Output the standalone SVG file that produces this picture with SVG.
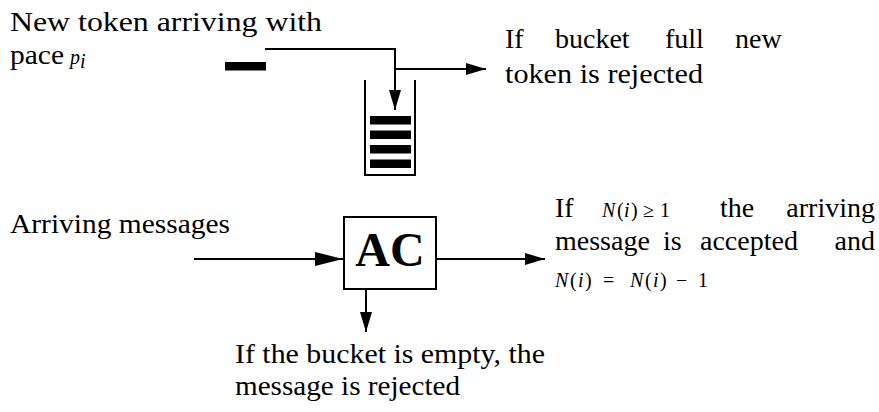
<svg xmlns="http://www.w3.org/2000/svg" width="879" height="412" viewBox="0 0 879 412">
<style>
.t{font-family:"Liberation Serif","DejaVu Serif","Times New Roman",serif;font-size:28px;fill:#000}
.m{font-family:"Liberation Serif","DejaVu Serif","Times New Roman",serif;font-style:italic;font-size:20px;fill:#000}
.mu{font-family:"Liberation Serif","DejaVu Serif","Times New Roman",serif;font-size:20px;fill:#000}
.ac{font-family:"Liberation Serif","DejaVu Serif","Times New Roman",serif;font-weight:bold;font-size:48px;fill:#000}
.ln{stroke:#000;stroke-width:2;fill:none}
</style>
<defs>
<marker id="ah" markerUnits="userSpaceOnUse" markerWidth="20" markerHeight="12" refX="20" refY="6" orient="auto"><path d="M0,0 L20,6 L0,12 z" fill="#000"/></marker>
<marker id="ahb" markerUnits="userSpaceOnUse" markerWidth="28" markerHeight="14" refX="28" refY="7" orient="auto"><path d="M0,0 L28,7 L0,14 z" fill="#000"/></marker>
</defs>
<rect width="879" height="412" fill="#fff"/>
<g id="token-label">
<text class="t" x="10" y="31" textLength="312" lengthAdjust="spacingAndGlyphs">New token arriving with</text>
<text class="t" x="10" y="64" textLength="54" lengthAdjust="spacingAndGlyphs">pace</text>
<text class="m" x="70" y="64">p</text><text class="m" x="80" y="68" font-size="14">i</text>
</g>
<g id="token"><rect x="225" y="62" width="41" height="8.5" fill="#000"/></g>
<g id="bucket">
<path class="ln" d="M365,80 V175 H415 V80"/>
<rect x="370" y="116" width="41" height="8.5" fill="#000"/>
<rect x="370" y="130.5" width="41" height="8.5" fill="#000"/>
<rect x="370" y="145" width="41" height="8.5" fill="#000"/>
<rect x="370" y="159.5" width="41" height="8.5" fill="#000"/>
</g>
<g id="full-label">
<text class="t" x="505" y="48">If</text>
<text class="t" x="555" y="48">bucket</text>
<text class="t" x="665" y="48">full</text>
<text class="t" x="735" y="48">new</text>
<text class="t" x="505" y="83" textLength="198" lengthAdjust="spacingAndGlyphs">token is rejected</text>
</g>
<g id="messages-label"><text class="t" x="10" y="233" textLength="220" lengthAdjust="spacingAndGlyphs">Arriving messages</text></g>
<g id="ac">
<rect class="ln" x="344" y="217" width="92" height="72" fill="#fff"/>
<text class="ac" x="390" y="266" text-anchor="middle">AC</text>
</g>
<g id="accept-label">
<text class="t" x="555" y="217">If</text>
<text class="m" x="602" y="217">N</text><text class="mu" x="617" y="217">(</text><text class="m" x="624" y="217">i</text><text class="mu" x="631" y="217">)</text><text class="mu" x="643" y="217">≥</text><text class="mu" x="660" y="217">1</text>
<text class="t" x="720" y="217">the</text>
<text class="t" x="875" y="217" text-anchor="end">arriving</text>
<text class="t" x="555" y="250">message</text>
<text class="t" x="663" y="250">is</text>
<text class="t" x="700" y="250">accepted</text>
<text class="t" x="875" y="250" text-anchor="end">and</text>
<text class="m" x="555" y="287">N</text><text class="mu" x="570" y="287">(</text><text class="m" x="578" y="287">i</text><text class="mu" x="585" y="287">)</text><text class="mu" x="603" y="287">=</text><text class="m" x="630" y="287">N</text><text class="mu" x="645" y="287">(</text><text class="m" x="653" y="287">i</text><text class="mu" x="660" y="287">)</text><text class="mu" x="676" y="287">−</text><text class="mu" x="698" y="287">1</text>
</g>
<g id="reject-label">
<text class="t" x="235" y="363" textLength="310" lengthAdjust="spacingAndGlyphs">If the bucket is empty, the</text>
<text class="t" x="235" y="395" textLength="225" lengthAdjust="spacingAndGlyphs">message is rejected</text>
</g>
<g id="connectors">
<path class="ln" d="M265,49 H395 V110" marker-end="url(#ah)"/>
<path class="ln" d="M395,69 H486" marker-end="url(#ah)"/>
<path class="ln" d="M194,259 H343" marker-end="url(#ahb)"/>
<path class="ln" d="M436,259 H545" marker-end="url(#ah)"/>
<path class="ln" d="M366,289 V332" marker-end="url(#ah)"/>
</g>
</svg>
